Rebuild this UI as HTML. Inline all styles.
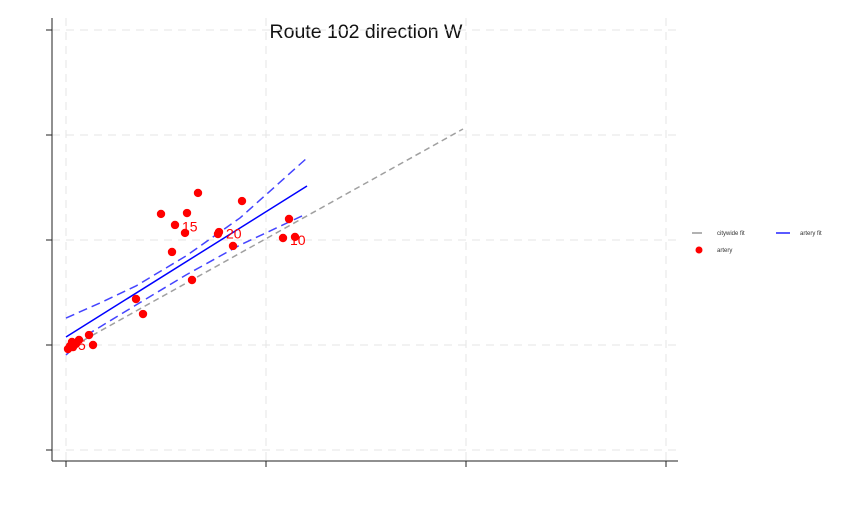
<!DOCTYPE html>
<html><head><meta charset="utf-8"><style>
body{margin:0;background:#fff;font-family:"Liberation Sans",Arial,sans-serif}
svg{display:block}
</style></head><body>
<svg id="chart" width="860" height="516" viewBox="0 0 860 516" xmlns="http://www.w3.org/2000/svg">
<text x="366" y="38" font-size="19.5" text-anchor="middle" fill="#111">Route 102 direction W</text>
<g id="grid"></g>
<g id="axes"></g>
<g id="lines"></g>
<g id="pts"></g>
<g font-size="6">
<line x1="692" y1="233" x2="702" y2="233" stroke="#999" stroke-width="1.5"/>
<text x="717" y="235" fill="#333">citywide fit</text>
<line x1="776" y1="233" x2="790" y2="233" stroke="#22f" stroke-width="1.5"/>
<text x="800" y="235" fill="#333">artery fit</text>
<circle cx="699" cy="250" r="3.5" fill="red"/>
<text x="717" y="252" fill="#333">artery</text>
</g>
</svg>
<script>
const xTicks=[0,1,2,3];
const yTicks=[-1,0,1,2,3];
const ptX=[0.475,0.66,0.88,0.545,0.605,0.595,0.76,0.765,0.835,0.53,0.63,0.35,0.385,1.115,1.085,1.145,0.115,0.135,0.065,0.03,0.02,0.01,0.035,0.05];
const ptY=[1.248,1.448,1.371,1.143,1.257,1.067,1.057,1.076,0.943,0.886,0.619,0.438,0.295,1.2,1.019,1.029,0.095,0,0.048,0.029,-0.01,-0.038,-0.02,0.01];
const labelText=["15","20","10","5"];
const labelX=[0.58,0.8,1.12,0.06];
const labelY=[1.13,1.06,1.0,0.0];
const cityX=[0,1.985];
const cityY=[-0.048,2.057];
const fitX=[0,1.205];
const fitY=[0.076,1.514];
const upX=[0,0.17,0.35,0.6,0.87,1.205];
const upY=[0.257,0.4,0.562,0.848,1.21,1.781];
const loX=[0,0.12,0.35,0.6,0.87,1.18];
const loY=[-0.095,0.114,0.381,0.667,0.952,1.229];
const sx=v=>66+200*v, sy=v=>345-105*v;
const NS="http://www.w3.org/2000/svg";
function mk(t,a,p){const e=document.createElementNS(NS,t);for(const k in a)e.setAttribute(k,a[k]);p.appendChild(e);return e;}
const grid=document.getElementById('grid'),axes=document.getElementById('axes'),lines=document.getElementById('lines'),pts=document.getElementById('pts');
xTicks.forEach(v=>{
 const g=mk('line',{x1:sx(v),x2:sx(v),y1:18,y2:461,stroke:'#e6e6e6','stroke-dasharray':'8,6'},grid);
 
 
 const t=mk('line',{x1:sx(v),x2:sx(v),y1:461,y2:467,stroke:'#222'},axes);
 
 
});
yTicks.forEach(v=>{
 const g=mk('line',{x1:52,x2:678,y1:sy(v),y2:sy(v),stroke:'#e6e6e6','stroke-dasharray':'8,6'},grid);
 
 
 const t=mk('line',{x1:46,x2:52,y1:sy(v),y2:sy(v),stroke:'#222'},axes);
 
 
});
const ya=mk('line',{x1:52,x2:52,y1:18,y2:461,stroke:'#222'},axes);


const xa=mk('line',{x1:52,x2:678,y1:461,y2:461,stroke:'#222'},axes);


function poly(xs,ys,attrs,name){
 const e=mk('polyline',Object.assign({points:xs.map((x,i)=>sx(x)+','+sy(ys[i])).join(' '),fill:'none'},attrs),lines);
 
 
}
poly(cityX,cityY,{stroke:'#a0a0a0','stroke-width':1.5,'stroke-dasharray':'6,4'},'citywide-fit-line');
poly(upX,upY,{stroke:'#44f','stroke-width':1.5,'stroke-dasharray':'9,5'},'artery-ci-upper');
poly(loX,loY,{stroke:'#44f','stroke-width':1.5,'stroke-dasharray':'9,5'},'artery-ci-lower');
poly(fitX,fitY,{stroke:'#00f','stroke-width':1.5},'artery-fit-line');
ptX.forEach((x,i)=>{
 const c=mk('circle',{cx:sx(x),cy:sy(ptY[i]),r:4.2,fill:'red'},pts);
 
 
});
labelText.forEach((s,i)=>{
 const t=mk('text',{x:sx(labelX[i]),y:sy(labelY[i])+5,'font-size':14,fill:'red'},pts);
 t.textContent=s;
 
 
});
</script>
</body></html>
